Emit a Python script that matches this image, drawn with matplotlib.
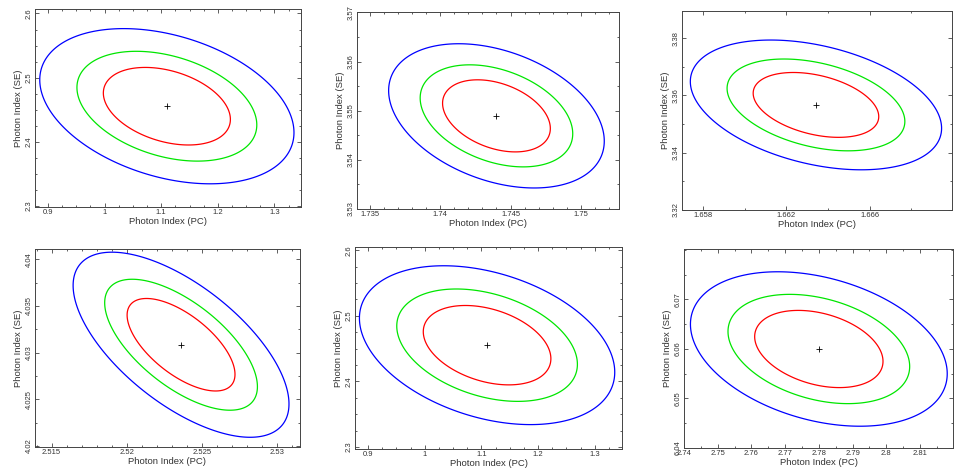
import numpy as np
import matplotlib
matplotlib.use('Agg')
import matplotlib.pyplot as plt
from matplotlib.ticker import AutoMinorLocator

plt.rcParams['font.family'] = ['Liberation Sans', 'DejaVu Sans']

# ---- data (one entry per panel, row-major) ----
best_x = [1.110, 1.74400, 1.66342, 2.52360, 1.110, 2.78000]
best_y = [2.4553, 3.54896, 3.35670, 4.03085, 2.4553, 6.06000]
sig_x = [0.0740, 0.002522, 0.001990, 0.002362, 0.0742, 0.01255]
sig_y = [0.0399, 0.004837, 0.007466, 0.003265, 0.0399, 0.00514]
rho = [-0.34, -0.35, -0.36, -0.64, -0.34, -0.32]
levels = [2.30, 4.61, 9.21]
level_colors = ['#ff0000', '#00e600', '#0000ff']

xlims = [(0.877, 1.347), (1.7341, 1.7527), (1.65698, 1.66996),
         (2.5139, 2.5315), (0.877, 1.348), (2.7404, 2.8198)]
ylims = [(2.298, 2.607), (3.5300, 3.5701), (3.3203, 3.3895),
         (4.0199, 4.0411), (2.297, 2.605), (6.0403, 6.0802)]

xticks = [[0.9, 1.0, 1.1, 1.2, 1.3],
          [1.735, 1.74, 1.745, 1.75],
          [1.658, 1.662, 1.666],
          [2.515, 2.52, 2.525, 2.53],
          [0.9, 1.0, 1.1, 1.2, 1.3],
          [2.74, 2.75, 2.76, 2.77, 2.78, 2.79, 2.80, 2.81]]
xticklabels = [['0.9', '1', '1.1', '1.2', '1.3'],
               ['1.735', '1.74', '1.745', '1.75'],
               ['1.658', '1.662', '1.666'],
               ['2.515', '2.52', '2.525', '2.53'],
               ['0.9', '1', '1.1', '1.2', '1.3'],
               ['2.74', '2.75', '2.76', '2.77', '2.78', '2.79', '2.8', '2.81']]
yticks = [[2.3, 2.4, 2.5, 2.6],
          [3.53, 3.54, 3.55, 3.56, 3.57],
          [3.32, 3.34, 3.36, 3.38],
          [4.02, 4.025, 4.03, 4.035, 4.04],
          [2.3, 2.4, 2.5, 2.6],
          [6.04, 6.05, 6.06, 6.07]]
yticklabels = [['2.3', '2.4', '2.5', '2.6'],
               ['3.53', '3.54', '3.55', '3.56', '3.57'],
               ['3.32', '3.34', '3.36', '3.38'],
               ['4.02', '4.025', '4.03', '4.035', '4.04'],
               ['2.3', '2.4', '2.5', '2.6'],
               ['6.04', '6.05', '6.06', '6.07']]
xminor = [4, 5, 2, 5, 4, 2]
yminor = [4, 2, 2, 2, 4, 2]

xlabel = 'Photon Index (PC)'
ylabel = 'Photon Index (SE)'

# ---- layout (pixel boxes: left, top, right, bottom) ----
W, H = 969, 470
boxes = [(35, 9, 301, 207), (357, 12, 619, 209), (682, 11, 952, 210),
         (35, 249, 300, 447), (355, 247, 622, 449), (684, 249, 953, 448)]

fig = plt.figure(figsize=(W / 100, H / 100), dpi=100)
frame_col = '#444444'
text_col = '#333333'

for i in range(6):
    l, t, r, b = boxes[i]
    ax = fig.add_axes([l / W, 1 - b / H, (r - l) / W, (b - t) / H])
    x0, x1 = xlims[i]
    y0, y1 = ylims[i]
    gx = np.linspace(x0, x1, 500)
    gy = np.linspace(y0, y1, 500)
    X, Y = np.meshgrid(gx, gy)
    dx = (X - best_x[i]) / sig_x[i]
    dy = (Y - best_y[i]) / sig_y[i]
    r_ = rho[i]
    dchi = (dx ** 2 - 2 * r_ * dx * dy + dy ** 2) / (1 - r_ ** 2)
    ax.contour(X, Y, dchi, levels=levels, colors=level_colors, linewidths=0.9)
    ax.plot([best_x[i]], [best_y[i]], marker='+', color='black',
            markersize=4, markeredgewidth=0.6, linestyle='none')
    ax.set_xlim(x0, x1)
    ax.set_ylim(y0, y1)
    ax.set_xticks(xticks[i])
    ax.set_xticklabels(xticklabels[i])
    ax.set_yticks(yticks[i])
    ax.set_yticklabels(yticklabels[i], rotation=90, va='center')
    ax.xaxis.set_minor_locator(AutoMinorLocator(xminor[i]))
    ax.yaxis.set_minor_locator(AutoMinorLocator(yminor[i]))
    ax.tick_params(which='both', direction='in', top=True, right=True,
                   color=frame_col, width=0.6, labelsize=5.5,
                   labelcolor=text_col, pad=1.5)
    ax.tick_params(which='major', length=2.6)
    ax.tick_params(which='minor', length=1.4)
    for s in ax.spines.values():
        s.set_color(frame_col)
        s.set_linewidth(0.7)
    ax.set_xlabel(xlabel, fontsize=6.8, color=text_col, labelpad=0.5)
    ax.set_ylabel(ylabel, fontsize=6.8, color=text_col, labelpad=2)

fig.savefig('out.png', dpi=100)
